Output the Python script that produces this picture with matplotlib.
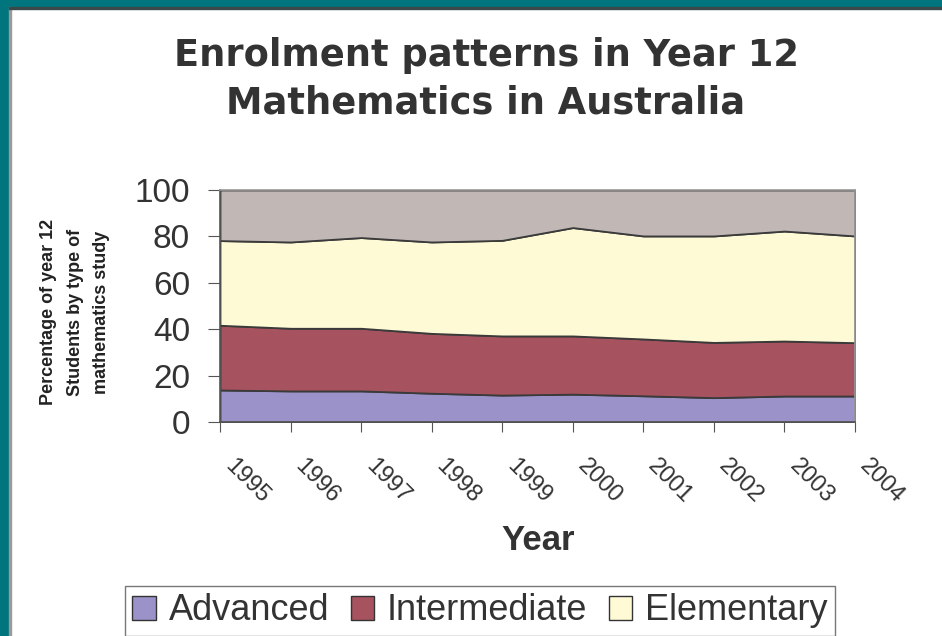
import matplotlib
matplotlib.use("Agg")
import matplotlib.pyplot as plt
import matplotlib.transforms as mtransforms
from matplotlib.patches import Patch, Rectangle

years = ["1995", "1996", "1997", "1998", "1999", "2000", "2001", "2002", "2003", "2004"]
advanced = [13.8, 13.4, 13.4, 12.4, 11.6, 12.0, 11.3, 10.5, 11.2, 11.2]
intermediate = [27.9, 27.0, 27.0, 25.8, 25.5, 25.1, 24.5, 23.8, 23.7, 23.0]
elementary = [36.5, 37.2, 39.1, 39.4, 41.2, 46.7, 44.4, 45.9, 47.4, 46.0]
other = [round(100 - a - b - c, 1) for a, b, c in zip(advanced, intermediate, elementary)]

colors = ["#9A92C8", "#A6525F", "#FFFAD6", "#C1B8B6"]
labels = ["Advanced", "Intermediate", "Elementary", "Other"]

plt.rcParams['font.family'] = ['Liberation Sans', 'DejaVu Sans']

W, H = 942, 636
fig = plt.figure(figsize=(W / 100, H / 100), dpi=100)
fig.patch.set_facecolor("white")

# teal frame on the left and top
fig.add_artist(Rectangle((0, 0), 9 / W, 1, transform=fig.transFigure, color="#00757E", zorder=0))
fig.add_artist(Rectangle((0, 1 - 7 / H), 1, 7 / H, transform=fig.transFigure, color="#00757E", zorder=0))
fig.add_artist(Rectangle((9 / W, 0), 1.5 / W, 1 - 7 / H, transform=fig.transFigure, color="#9a9a9a", zorder=0))
fig.add_artist(Rectangle((9 / W, 1 - 8.5 / H), 1 - 9 / W, 1.5 / H, transform=fig.transFigure, color="#3a4a4c", zorder=0))

left, right, top, bottom = 220, 855, 190, 422
ax = fig.add_axes([left / W, 1 - bottom / H, (right - left) / W, (bottom - top) / H])

x = list(range(len(years)))
ax.stackplot(x, advanced, intermediate, elementary, other, colors=colors,
             edgecolor="#3a3a3a", linewidth=1.3)

ax.set_xlim(0, len(years) - 1)
ax.set_ylim(0, 100)
ax.set_yticks([0, 20, 40, 60, 80, 100])
ax.set_xticks(x)
ax.set_xticklabels(years, rotation=-45, ha="left", va="top", rotation_mode="anchor")
ax.tick_params(axis="x", direction="out", length=7, color="#555555", labelsize=17,
               labelcolor="#333333", pad=17)
ax.tick_params(axis="y", direction="out", length=8.6, color="#555555", labelsize=24,
               labelcolor="#333333", pad=13)
shift = mtransforms.ScaledTranslation(16 / 100, 0, fig.dpi_scale_trans)
for lab in ax.get_xticklabels():
    lab.set_transform(lab.get_transform() + shift)

for s in ["top", "right"]:
    ax.spines[s].set_color("#9a9a9a")
    ax.spines[s].set_linewidth(1.2)
for s in ["left", "bottom"]:
    ax.spines[s].set_color("#555555")
    ax.spines[s].set_linewidth(1.2)

fig.text(486 / W, 1 - 55 / H, "Enrolment patterns in Year 12", ha="center", va="center",
         fontsize=26.5, fontweight="bold", color="#333333", family="DejaVu Sans")
fig.text(486 / W, 1 - 103 / H, "Mathematics in Australia", ha="center", va="center",
         fontsize=26.5, fontweight="bold", color="#333333", family="DejaVu Sans")

fig.text(75 / W, 1 - 312 / H, "Percentage of year 12\nStudents by type of\nmathematics study",
         ha="center", va="center", rotation=90, fontsize=13, fontweight="bold",
         color="#222222", linespacing=1.7)

fig.text(538 / W, 1 - 540 / H, "Year", ha="center", va="center", fontsize=25,
         fontweight="bold", color="#333333")

handles = [Patch(facecolor=colors[i], edgecolor="#333333", linewidth=1.0, label=labels[i]) for i in range(3)]
leg = fig.legend(handles=handles, loc="center", bbox_to_anchor=(480 / W, 1 - 611 / H), ncol=3,
                 fontsize=26, frameon=True, fancybox=False, edgecolor="#555555",
                 handlelength=0.65, handleheight=0.65, handletextpad=0.35, columnspacing=0.6,
                 borderpad=0.2, borderaxespad=0)
leg.get_frame().set_linewidth(1.0)
for t in leg.get_texts():
    t.set_color("#333333")

fig.savefig("out.png", dpi=100)
